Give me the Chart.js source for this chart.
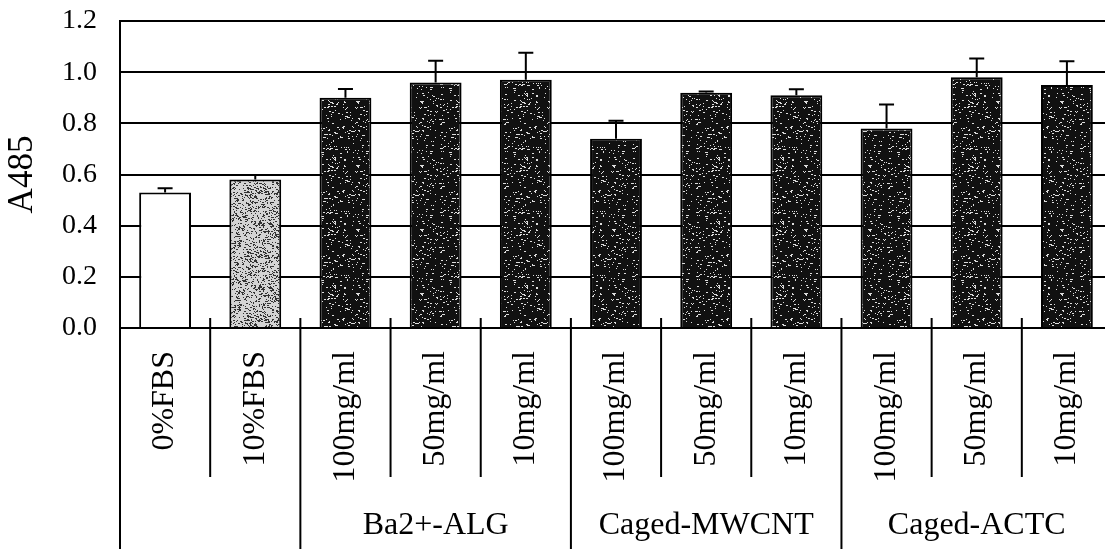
<!DOCTYPE html>
<html>
<head>
<meta charset="utf-8">
<script src="https://cdn.jsdelivr.net/npm/chart.js@4/dist/chart.umd.min.js"></script>
<style>
html, body { margin: 0; padding: 0; background: #fff; overflow: hidden; }
canvas { display: block; }
</style>
</head>
<body>
<canvas id="a485chart" width="1112" height="549"></canvas>
<script>
// A485 readings, one bar per condition
var categories = ['0%FBS', '10%FBS',
    '100mg/ml', '50mg/ml', '10mg/ml',
    '100mg/ml', '50mg/ml', '10mg/ml',
    '100mg/ml', '50mg/ml', '10mg/ml'];
var absorbance = [0.53, 0.58, 0.90, 0.96, 0.97, 0.74, 0.92, 0.91, 0.78, 0.98, 0.95];
var errorUp = [0.016, 0.018, 0.034, 0.085, 0.106, 0.07, 0.004, 0.023, 0.094, 0.073, 0.093];

// material groups under the concentration labels
var groupNames = ['Ba2+-ALG', 'Caged-MWCNT', 'Caged-ACTC'];
var groupFirst = [2, 5, 8];
var groupLen = 3;

var yMin = 0, yMax = 1.2, yStep = 0.2;

var serif = '"Liberation Serif", "Times New Roman", serif';

// grainy fill like a photocopied bar
function speckle(base, dot, count, seed) {
    var c = document.createElement('canvas');
    c.width = 64; c.height = 64;
    var g = c.getContext('2d');
    g.fillStyle = base;
    g.fillRect(0, 0, 64, 64);
    g.fillStyle = dot;
    var s = seed;
    function rnd() { s = (s * 1103515245 + 12345) % 2147483648; return s / 2147483648; }
    for (var i = 0; i < count; i++) {
        var w = rnd() < 0.3 ? 2 : 1;
        g.fillRect(Math.floor(rnd() * 64), Math.floor(rnd() * 64), w, 1);
    }
    return g.createPattern(c, 'repeat');
}

var ctx0 = document.getElementById('a485chart').getContext('2d');
var darkFill = speckle('#111', '#ddd', 260, 7);
var lightFill = speckle('#d4d4d4', '#333', 900, 3);
var fills = categories.map(function (c, i) {
    if (i == 0) return '#fff';
    if (i == 1) return lightFill;
    return darkFill;
});

var extras = {
    id: 'extras',
    afterDatasetsDraw: function (chart) {
        var ctx = chart.ctx, x = chart.scales.x, y = chart.scales.y;
        ctx.save();
        ctx.strokeStyle = '#000';
        ctx.lineWidth = 2;
        for (var i = 0; i < absorbance.length; i++) {
            var px = x.getPixelForValue(i);
            var top = y.getPixelForValue(absorbance[i]);
            var hi = y.getPixelForValue(absorbance[i] + errorUp[i]);
            ctx.beginPath();
            ctx.moveTo(px, top);
            ctx.lineTo(px, hi);
            ctx.moveTo(px - 7.5, hi);
            ctx.lineTo(px + 7.5, hi);
            ctx.stroke();
        }
        ctx.restore();
    },
    afterDraw: function (chart) {
        var ctx = chart.ctx, x = chart.scales.x, area = chart.chartArea;
        var H = chart.height;
        ctx.save();
        ctx.strokeStyle = '#000';
        ctx.lineWidth = 2;
        // left frame runs down past the labels
        ctx.beginPath();
        ctx.moveTo(area.left, area.top);
        ctx.lineTo(area.left, H);
        ctx.stroke();
        // separators between categories
        for (var i = 1; i < categories.length; i++) {
            var bx = (x.getPixelForValue(i - 1) + x.getPixelForValue(i)) / 2;
            var full = groupFirst.indexOf(i) >= 0;
            ctx.beginPath();
            ctx.moveTo(bx, area.bottom - 10);
            ctx.lineTo(bx, full ? H : 477);
            ctx.stroke();
        }
        // group names
        ctx.fillStyle = '#000';
        ctx.font = '32px ' + serif;
        ctx.textAlign = 'center';
        ctx.textBaseline = 'middle';
        for (var g = 0; g < groupNames.length; g++) {
            var a = x.getPixelForValue(groupFirst[g]);
            var b = x.getPixelForValue(groupFirst[g] + groupLen - 1);
            ctx.fillText(groupNames[g], (a + b) / 2, 526);
        }
        ctx.restore();
    }
};

new Chart(ctx0, {
    type: 'bar',
    data: {
        labels: categories,
        datasets: [{
            data: absorbance,
            backgroundColor: fills,
            borderColor: '#000',
            borderWidth: 2,
            categoryPercentage: 1,
            barPercentage: 0.575
        }]
    },
    options: {
        responsive: false,
        animation: false,
        layout: { padding: { top: 21, left: 0, right: 0, bottom: 0 } },
        plugins: {
            legend: { display: false },
            tooltip: { enabled: false }
        },
        scales: {
            x: {
                grid: { display: false },
                border: { display: true, color: '#000', width: 2 },
                ticks: {
                    minRotation: 90,
                    maxRotation: 90,
                    padding: 15,
                    color: '#000',
                    font: { family: serif, size: 32 }
                },
                afterFit: function (s) {
                    s.height = 221;
                    s.paddingLeft = 0; s.paddingRight = 0;
                    s.paddingTop = 0; s.paddingBottom = 0;
                }
            },
            y: {
                min: yMin,
                max: yMax,
                grid: { color: '#000', lineWidth: 2, drawTicks: false },
                border: { display: true, color: '#000', width: 2 },
                ticks: {
                    stepSize: yStep,
                    padding: 23,
                    color: '#000',
                    font: { family: serif, size: 28 },
                    callback: function (v) { return v.toFixed(1); }
                },
                title: {
                    display: true,
                    text: 'A485',
                    color: '#000',
                    padding: { top: 2, bottom: 0 },
                    font: { family: serif, size: 35 }
                },
                afterFit: function (s) {
                    s.width = 120;
                    s.paddingTop = 0; s.paddingBottom = 0;
                }
            }
        }
    },
    plugins: [extras]
});
</script>
</body>
</html>
